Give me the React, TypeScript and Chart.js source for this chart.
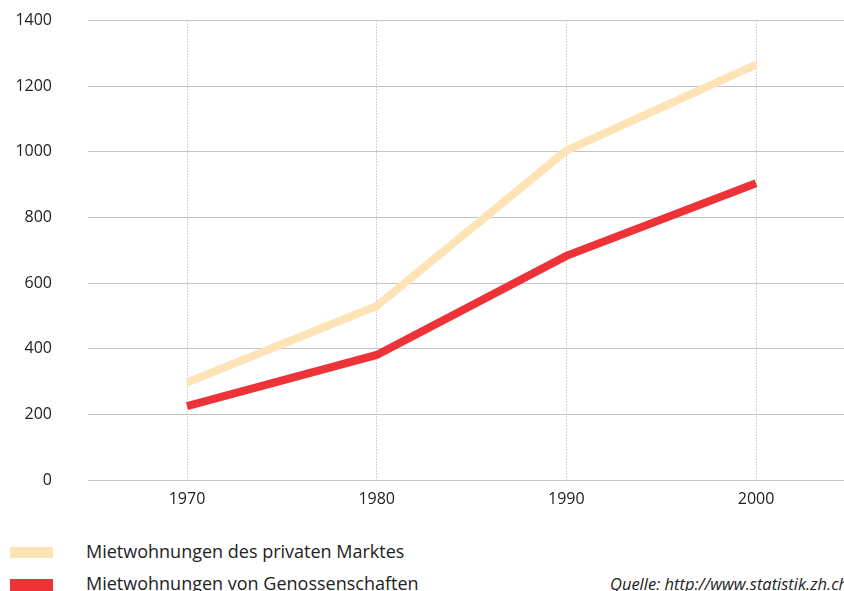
import React, { useEffect, useRef } from "react";
import { Chart, registerables } from "chart.js";

Chart.register(...registerables);

const years = [1970, 1980, 1990, 2000];
const privatMarkt = [297, 530, 1004, 1266];
const genossenschaften = [225, 381, 683, 904];
const yTicks = [0, 200, 400, 600, 800, 1000, 1200, 1400];
const labelPrivat = "Mietwohnungen des privaten Marktes";
const labelGenossen = "Mietwohnungen von Genossenschaften";
const sourceText = "Quelle: http://www.statistik.zh.ch";

const FONT = "'Open Sans', 'DejaVu Sans', sans-serif";

export default function App() {
  const ref = useRef<HTMLCanvasElement | null>(null);

  useEffect(() => {
    if (!ref.current) return;
    const chart = new Chart(ref.current, {
      type: "line",
      data: {
        datasets: [
          {
            label: labelPrivat,
            data: years.map((y, i) => ({ x: y, y: privatMarkt[i] })),
            borderColor: "#fde3b5",
            borderWidth: 8,
            pointRadius: 0,
            borderCapStyle: "butt",
            tension: 0,
          },
          {
            label: labelGenossen,
            data: years.map((y, i) => ({ x: y, y: genossenschaften[i] })),
            borderColor: "#ee3338",
            borderWidth: 8,
            pointRadius: 0,
            borderCapStyle: "butt",
            tension: 0,
          },
        ],
      },
      options: {
        animation: false,
        responsive: false,
        maintainAspectRatio: false,
        layout: { padding: { top: 20, left: 0, right: 0, bottom: 0 } },
        plugins: { legend: { display: false }, tooltip: { enabled: false } },
        scales: {
          x: {
            type: "linear",
            min: 1964.78,
            max: 2005.48,
            afterBuildTicks: (s: any) => {
              s.ticks = years.map((v) => ({ value: v }));
            },
            afterFit: (s: any) => {
              s.height = 50;
            },
            ticks: {
              padding: 10,
              color: "#222",
              font: { family: FONT, size: 16 },
              callback: (v: any) => String(v),
            },
            grid: { color: "#aaaaaa", drawTicks: false, lineWidth: 1 },
            border: { display: false, dash: [1, 2] },
          },
          y: {
            min: 0,
            max: 1400,
            afterBuildTicks: (s: any) => {
              s.ticks = yTicks.map((v) => ({ value: v }));
            },
            afterFit: (s: any) => {
              s.width = 88;
            },
            ticks: {
              padding: 36,
              color: "#222",
              font: { family: FONT, size: 16 },
              callback: (v: any) => String(v),
            },
            grid: { color: "#c4c4c4", drawTicks: false, lineWidth: 1 },
            border: { display: false },
          },
        },
      },
    });
    return () => chart.destroy();
  }, []);

  const legendText: React.CSSProperties = {
    position: "absolute",
    left: 86,
    fontFamily: FONT,
    fontSize: 18,
    color: "#222",
    whiteSpace: "nowrap",
    lineHeight: "20px",
  };

  return (
    <div
      style={{
        position: "absolute",
        left: 0,
        top: 0,
        width: 844,
        height: 591,
        overflow: "hidden",
        background: "#fff",
      }}
    >
      <canvas ref={ref} width={860} height={555} style={{ position: "absolute", left: 0, top: -25 }} />
      <div style={{ position: "absolute", left: 10, top: 547, width: 43, height: 11, background: "#fde3b5" }} />
      <div style={{ ...legendText, top: 541 }}>{labelPrivat}</div>
      <div style={{ position: "absolute", left: 10, top: 579, width: 43, height: 12, background: "#ee3338" }} />
      <div style={{ ...legendText, top: 573 }}>{labelGenossen}</div>
      <div
        style={{
          position: "absolute",
          left: 610,
          top: 574,
          fontFamily: FONT,
          fontSize: 16.5,
          fontStyle: "italic",
          color: "#222",
          whiteSpace: "nowrap",
          lineHeight: "20px",
        }}
      >
        {sourceText}
      </div>
    </div>
  );
}
